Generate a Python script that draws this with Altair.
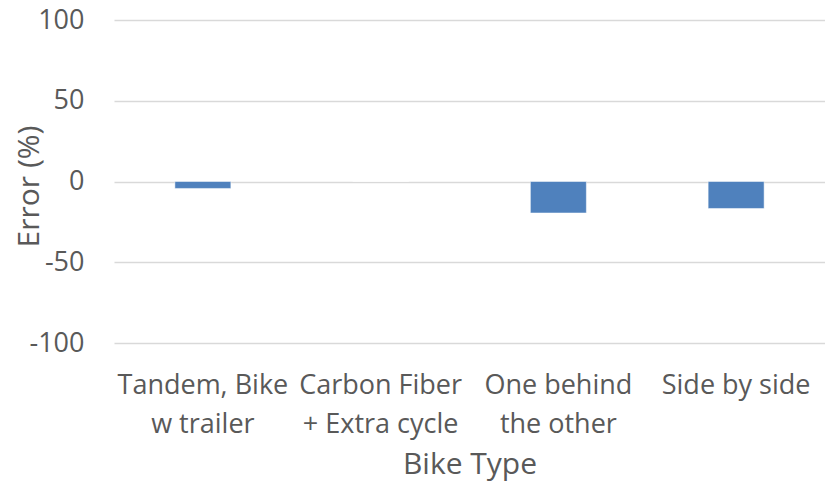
import altair as alt
import pandas as pd

# Bike configurations (two-line axis labels separated by "\n") and their error
bike_types = [
    "Tandem, Bike\nw trailer",
    "Carbon Fiber\n+ Extra cycle",
    "One behind\nthe other",
    "Side by side",
]
error_pct = [-4.3, 0.0, -19.5, -16.7]

df = pd.DataFrame({"bike": bike_types, "error": error_pct})

FONT = "Open Sans"
TEXT = "#595959"
LABEL_SIZE = 27
TITLE_SIZE = 30

bars = (
    alt.Chart(df)
    .mark_bar(color="#4f81bd", stroke="#ffffff", strokeWidth=0.5)
    .encode(
        x=alt.X(
            "bike:N",
            sort=bike_types,
            title="Bike Type",
            scale=alt.Scale(paddingInner=0.685, paddingOuter=0.3425),
            axis=alt.Axis(
                labelAngle=0,
                labelExpr="split(datum.label, '\\n')",
                labelFontSize=LABEL_SIZE,
                labelLineHeight=39,
                labelPadding=29,
                labelColor=TEXT,
                labelFont=FONT,
                labelOverlap=False,
                ticks=False,
                domain=False,
                grid=False,
                titleFontSize=TITLE_SIZE,
                titleFont=FONT,
                titleColor=TEXT,
                titleFontWeight="normal",
                titleY=130,
                titleBaseline="alphabetic",
            ),
        ),
        y=alt.Y(
            "error:Q",
            title="Error (%)",
            scale=alt.Scale(domain=[-100, 100], nice=False),
            axis=alt.Axis(
                values=[-100, -50, 0, 50, 100],
                labelExpr="toString(datum.value)",
                labelFontSize=LABEL_SIZE,
                labelFont=FONT,
                labelColor=TEXT,
                labelPadding=30,
                ticks=False,
                domain=False,
                gridColor="#d9d9d9",
                gridWidth=1.5,
                titleFontSize=TITLE_SIZE,
                titleFont=FONT,
                titleColor=TEXT,
                titleFontWeight="normal",
                titleX=-85,
                titleY=166,
                titleAngle=-90,
                titleAlign="center",
                titleBaseline="middle",
            ),
        ),
    )
)

chart = (
    bars.properties(
        width=711,
        height=323,
        background="white",
        autosize=alt.AutoSizeParams(type="none"),
        padding={"left": 114, "top": 20, "right": 0, "bottom": 139},
    )
    .configure_view(stroke="transparent", strokeWidth=0)
)

chart.save("out.html", embed_options={"renderer": "svg", "actions": False})
